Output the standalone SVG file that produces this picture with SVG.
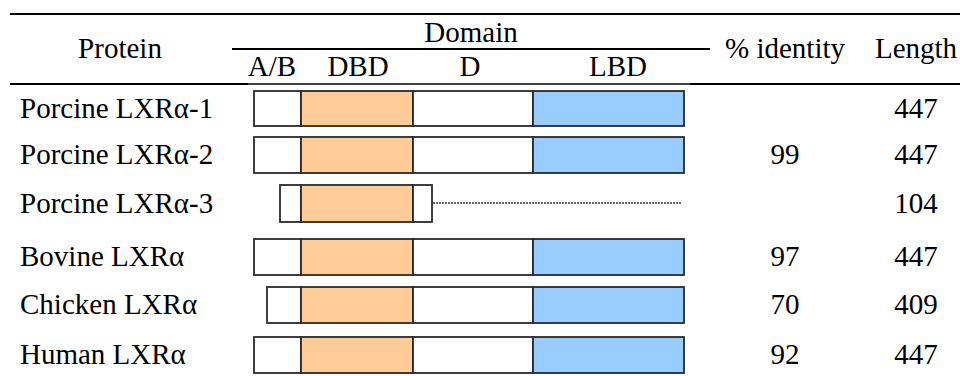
<svg xmlns="http://www.w3.org/2000/svg" width="960" height="376" viewBox="0 0 960 376">
<style>
text{font-family:"Liberation Serif","Times New Roman",serif;font-size:29px;fill:#000}
.c{text-anchor:middle}
.rule{stroke:#000;stroke-width:2.2}
.thin{stroke:#000;stroke-width:1.3}
.seg{stroke:#2a2a2a;stroke-width:1.8}
.w{fill:#fff}
.dbd{fill:#FFCC99}
.lbd{fill:#99CCFF}
</style>
<rect width="960" height="376" fill="#fff"/>
<g id="header">
<line class="rule" x1="10" y1="14" x2="960" y2="14"/>
<line class="rule" x1="232" y1="49" x2="710" y2="49"/>
<line class="rule" x1="10" y1="84" x2="248" y2="84"/>
<line class="thin" x1="248" y1="84" x2="690" y2="84"/>
<line class="rule" x1="690" y1="84" x2="960" y2="84"/>
<text class="c" x="120" y="58">Protein</text>
<text class="c" x="471" y="42">Domain</text>
<text class="c" x="272" y="76">A/B</text>
<text class="c" x="358" y="76">DBD</text>
<text class="c" x="470" y="76">D</text>
<text class="c" x="618" y="76">LBD</text>
<text class="c" x="785" y="58">% identity</text>
<text class="c" x="916" y="58">Length</text>
</g>
<g id="row1">
<text x="20" y="118">Porcine LXRα-1</text>
<rect class="seg w" x="254" y="91" width="47" height="35"/>
<rect class="seg dbd" x="301" y="91" width="112" height="35"/>
<rect class="seg w" x="413" y="91" width="120" height="35"/>
<rect class="seg lbd" x="533" y="91" width="151" height="35"/>
<text class="c" x="916" y="118">447</text>
</g>
<g id="row2">
<text x="20" y="164">Porcine LXRα-2</text>
<rect class="seg w" x="254" y="137" width="47" height="36"/>
<rect class="seg dbd" x="301" y="137" width="112" height="36"/>
<rect class="seg w" x="413" y="137" width="120" height="36"/>
<rect class="seg lbd" x="533" y="137" width="151" height="36"/>
<text class="c" x="785" y="164">99</text>
<text class="c" x="916" y="164">447</text>
</g>
<g id="row3">
<text x="20" y="213">Porcine LXRα-3</text>
<rect class="seg w" x="280" y="185" width="21" height="37"/>
<rect class="seg dbd" x="301" y="185" width="112" height="37"/>
<rect class="seg w" x="413" y="185" width="19" height="37"/>
<line x1="433" y1="203" x2="682" y2="203" stroke="#333" stroke-width="1.3" stroke-dasharray="2 1"/>
<text class="c" x="916" y="213">104</text>
</g>
<g id="row4">
<text x="20" y="266">Bovine LXRα</text>
<rect class="seg w" x="254" y="239" width="47" height="36"/>
<rect class="seg dbd" x="301" y="239" width="112" height="36"/>
<rect class="seg w" x="413" y="239" width="120" height="36"/>
<rect class="seg lbd" x="533" y="239" width="151" height="36"/>
<text class="c" x="785" y="266">97</text>
<text class="c" x="916" y="266">447</text>
</g>
<g id="row5">
<text x="20" y="314">Chicken LXRα</text>
<rect class="seg w" x="267" y="287" width="34" height="36"/>
<rect class="seg dbd" x="301" y="287" width="112" height="36"/>
<rect class="seg w" x="413" y="287" width="120" height="36"/>
<rect class="seg lbd" x="533" y="287" width="151" height="36"/>
<text class="c" x="785" y="314">70</text>
<text class="c" x="916" y="314">409</text>
</g>
<g id="row6">
<text x="20" y="364">Human LXRα</text>
<rect class="seg w" x="254" y="337" width="47" height="36"/>
<rect class="seg dbd" x="301" y="337" width="112" height="36"/>
<rect class="seg w" x="413" y="337" width="120" height="36"/>
<rect class="seg lbd" x="533" y="337" width="151" height="36"/>
<text class="c" x="785" y="364">92</text>
<text class="c" x="916" y="364">447</text>
</g>
<g id="connectors"></g>
</svg>
